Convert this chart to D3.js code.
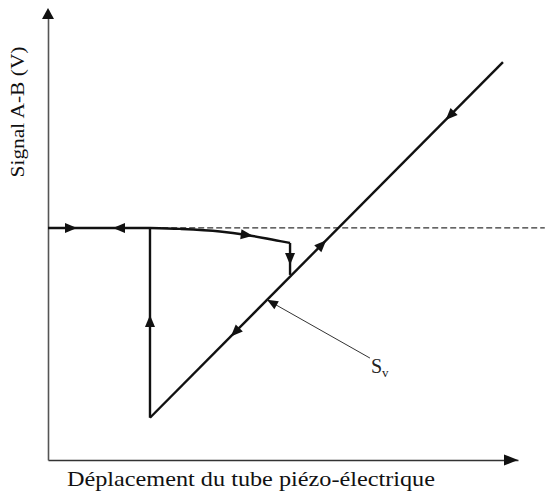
<!DOCTYPE html>
<html><head><meta charset="utf-8">
<script src="https://cdn.jsdelivr.net/npm/d3@7"></script>
<style>body{margin:0;background:#fff}svg{display:block}</style>
</head><body><svg id="c" width="545" height="492"></svg>
<script>
// ---- data (arbitrary schematic units) ----
const baselineY = 0;
const dashedX = [24.3, 105.7];
const approachX = [0, 21.7];               // solid flat part on baseline
const curveX = [21.7, 28.1, 36.6, 42.3, 49.4, 51.5];
const curveY = [0, -0.2, -0.75, -1.5, -2.8, -3.2];
const dropX = [51.5, 51.5];
const dropY = [-3.2, -10.0];
const diagX = [21.7, 96.8];
const diagY = [-40.4, 35.3];
const riseX = [21.7, 21.7];
const riseY = [-40.4, 0];
// arrows: position and direction
const arrowX = [4.9, 15.1, 42.3, 51.5, 21.7, 39.8, 58.3, 85.5];
const arrowY = [0, 0, -1.5, -6.6, -19.8, -22.2, -3.5, 23.9];
const arrowDX = [1, -1, 1, 0, 0, -1, 1, -1];
const arrowDY = [0, 0, -0.12, -1, 1, -1.008, 1.008, -1.008];
// annotation
const annotX = [68.5, 46.6];
const annotY = [-27.7, -15.3];
const labelSv = {x: 68.7, y: -30.8};
const xTitle = "Déplacement du tube piézo-électrique";
const yTitle = "Signal A-B (V)";

// ---- scales ----
const x = d3.scaleLinear().domain([0, 100]).range([48, 518]);
const y = d3.scaleLinear().domain([-49.4, 46.4]).range([460, 10]);
const svg = d3.select("#c");

// axes (no ticks)
svg.append("g").attr("transform", `translate(0,${y(-49.4)})`)
  .call(d3.axisBottom(x).tickValues([]).tickSizeOuter(0))
  .call(g => g.select(".domain").attr("stroke", "#333").attr("stroke-width", 1.6));
svg.append("g").attr("transform", `translate(${x(0)},0)`)
  .call(d3.axisLeft(y).tickValues([]).tickSizeOuter(0))
  .call(g => g.select(".domain").attr("stroke", "#555").attr("stroke-width", 1.6));
// axis arrowheads
svg.append("path").attr("d", `M${x(0)},${y(46.4)-2} l-6,11 l12,0 Z`).attr("fill", "#111");
svg.append("path").attr("d", `M${x(100)},${y(-49.4)} l-14,-5.5 l0,11 Z`).attr("fill", "#111");

const line = d3.line().x(d => x(d[0])).y(d => y(d[1]));
const path = (xs, ys) => xs.map((v, i) => [v, ys[i]]);

// dashed baseline
svg.append("path").attr("d", line(path(dashedX, [baselineY, baselineY])))
  .attr("stroke", "#333").attr("stroke-width", 1.2).attr("stroke-dasharray", "6,3").attr("fill", "none");

const main = [
  path(approachX, [baselineY, baselineY]),
  path(curveX, curveY),
  path(dropX, dropY),
  path(diagX, diagY),
  path(riseX, riseY)
];
const curveLine = d3.line().x(d => x(d[0])).y(d => y(d[1])).curve(d3.curveMonotoneX);
svg.selectAll("path.main").data(main).join("path").attr("class", "main")
  .attr("d", (d, i) => i === 1 ? curveLine(d) : line(d))
  .attr("stroke", "#111").attr("stroke-width", 2.4).attr("fill", "none")
  .attr("stroke-linecap", "butt");

// arrows on curves
svg.selectAll("path.arr").data(arrowX).join("path").attr("class", "arr")
  .attr("d", "M6,0 L-6,-5 L-6,5 Z").attr("fill", "#111")
  .attr("transform", (d, i) => {
    const px = x(d), py = y(arrowY[i]);
    const a = Math.atan2(y(arrowY[i] + arrowDY[i]) - py, x(d + arrowDX[i]) - px) * 180 / Math.PI;
    return `translate(${px},${py}) rotate(${a})`;
  });

// annotation
svg.append("path").attr("d", line(path(annotX, annotY)))
  .attr("stroke", "#333").attr("stroke-width", 1).attr("fill", "none");
{
  const px = x(annotX[1]), py = y(annotY[1]);
  const a = Math.atan2(py - y(annotY[0]), px - x(annotX[0])) * 180 / Math.PI;
  svg.append("path").attr("d", "M0,0 L-11,-4.5 L-11,4.5 Z").attr("fill", "#111")
    .attr("transform", `translate(${px},${py}) rotate(${a})`);
}
const sv = svg.append("text").attr("x", x(labelSv.x)).attr("y", y(labelSv.y))
  .attr("font-family", "Liberation Serif, serif").attr("font-size", 20).attr("fill", "#222");
sv.append("tspan").text("S");
sv.append("tspan").attr("font-size", 13).attr("dy", 4).text("v");

// titles
svg.append("text").attr("x", 251).attr("y", 486).attr("text-anchor", "middle")
  .attr("font-family", "Liberation Serif, serif").attr("font-size", 21).attr("fill", "#111")
  .attr("textLength", 368).attr("lengthAdjust", "spacingAndGlyphs").text(xTitle);
svg.append("text").attr("transform", "translate(24,112) rotate(-90)").attr("text-anchor", "middle")
  .attr("font-family", "Liberation Serif, serif").attr("font-size", 18).attr("fill", "#111")
  .attr("textLength", 131).attr("lengthAdjust", "spacingAndGlyphs").text(yTitle);
</script></body></html>
